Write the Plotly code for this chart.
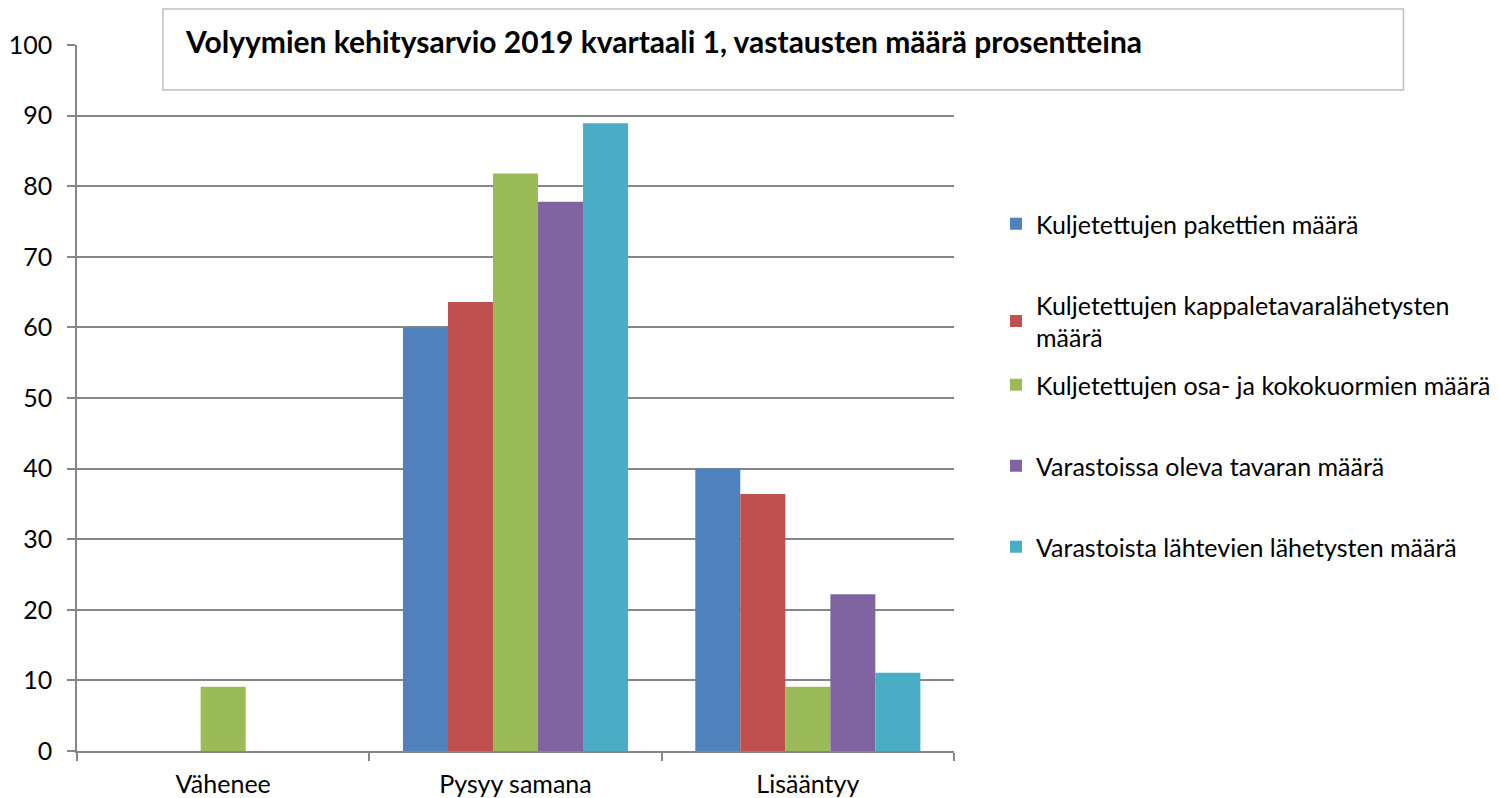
import plotly.graph_objects as go

categories = ["Vähenee", "Pysyy samana", "Lisääntyy"]
series_names = [
    "Kuljetettujen pakettien määrä",
    "Kuljetettujen kappaletavaralähetysten<br>määrä",
    "Kuljetettujen osa- ja kokokuormien määrä",
    "Varastoissa oleva tavaran määrä",
    "Varastoista lähtevien lähetysten määrä",
]
pakettien = [0, 60.0, 40.0]
kappaletavara = [0, 63.6, 36.4]
kuormat = [9.1, 81.8, 9.1]
varasto = [0, 77.8, 22.2]
lahtevat = [0, 88.9, 11.1]
series_values = [pakettien, kappaletavara, kuormat, varasto, lahtevat]
colors = ["#4F81BD", "#C0504D", "#9BBB59", "#8064A2", "#4BACC6"]
title_text = "Volyymien kehitysarvio 2019 kvartaali 1, vastausten määrä prosentteina"

OFF = 8  # page body margin
W, H = 1499, 798
L, R, T, B = 77 - OFF, 955 - OFF, 45 - OFF, 751 - OFF
pw, ph = R - L, B - T

def px_x(sx):
    return (sx - OFF - L) / pw

def px_y(sy):
    return (B - (sy - OFF)) / ph

FONT = "Lato"
fig = go.Figure()
legend_y_px = [224, 321, 385, 466, 547]
legend_keys = ["legend", "legend2", "legend3", "legend4", "legend5"]
for i, (name, vals, col) in enumerate(zip(series_names, series_values, colors)):
    fig.add_trace(go.Bar(
        x=categories, y=vals, name=name, marker_color=col,
        marker_line_width=0, legend=legend_keys[i],
    ))

layout_legends = {}
for i, key in enumerate(legend_keys):
    layout_legends[key] = dict(
        x=px_x(996), y=px_y(legend_y_px[i]), xanchor="left", yanchor="middle",
        font=dict(family=FONT, size=25, color="#000000"),
        bgcolor="rgba(0,0,0,0)", itemwidth=30,
    )

fig.update_layout(
    width=W, height=H,
    margin=dict(l=L, r=W - R, t=T, b=H - B, pad=0),
    paper_bgcolor="white", plot_bgcolor="white",
    barmode="group", bargap=0.23, bargroupgap=0,
    showlegend=True,
    font=dict(family=FONT, size=25, color="#000000"),
    xaxis=dict(
        range=[-0.5, 2.5], showgrid=False, tickson="boundaries", ticks="outside",
        ticklen=8, tickcolor="#868686", tickwidth=1.5,
        showline=True, linecolor="#868686", linewidth=1.5,
        tickfont=dict(family=FONT, size=25, color="#000000"), fixedrange=True,
        automargin=False, ticklabelstandoff=10,
    ),
    yaxis=dict(
        range=[0, 100], dtick=10, showgrid=True, gridcolor="#868686", gridwidth=1.5,
        ticks="outside", ticklen=8, tickcolor="#868686", tickwidth=1.5,
        showline=True, linecolor="#868686", linewidth=1.5, zeroline=False,
        tickfont=dict(family=FONT, size=25, color="#000000"), ticklabelstandoff=10,
        automargin=False,
    ),
    shapes=[dict(
        type="rect", xref="paper", yref="paper",
        x0=px_x(163), x1=px_x(1405), y0=px_y(90), y1=px_y(9),
        fillcolor="white", line=dict(color="#BFBFBF", width=1.5), layer="above",
    )],
    annotations=[dict(
        text="<b>" + title_text + "</b>", xref="paper", yref="paper",
        x=px_x(183), y=px_y(41), xanchor="left", yanchor="middle", showarrow=False,
        font=dict(family=FONT, size=30, color="#000000"),
    )],
    **layout_legends,
)

fig.write_html("out.html")
